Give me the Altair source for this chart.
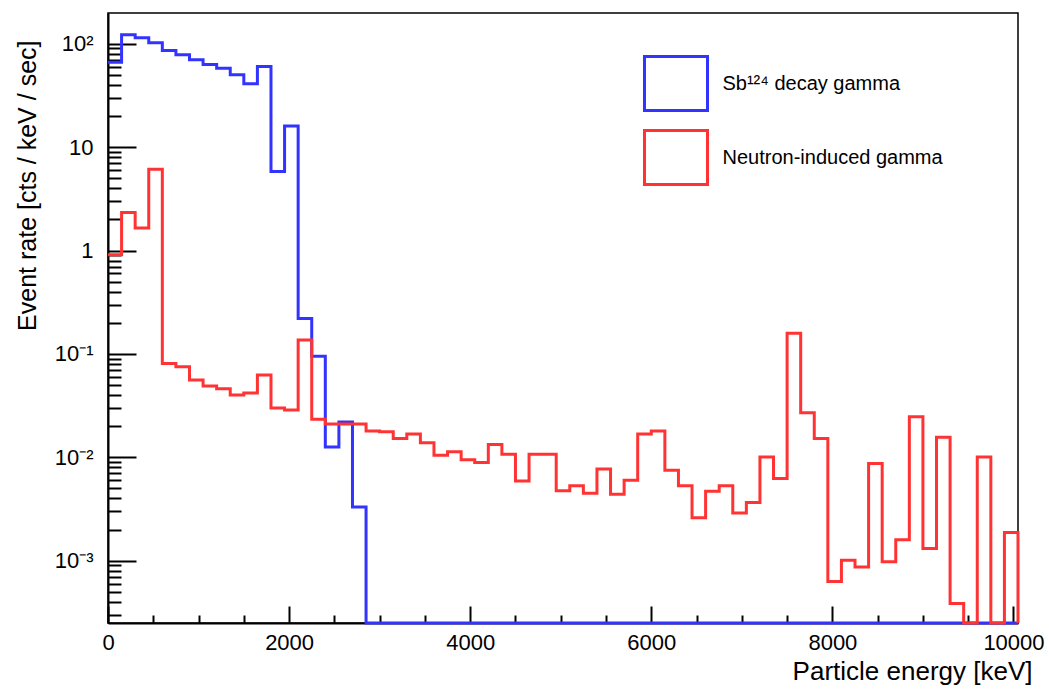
import altair as alt
import pandas as pd

# ---------------- data ----------------
bin_width_kev = 150
x_max_kev = 10050
y_min = 2.5e-4
y_max = 198

series_names = ["Sb\u00b9\u00b2\u2074 decay gamma", "Neutron-induced gamma"]
series_colors = ["#3333ff", "#ff3333"]

# Sb124 decay gamma, event rate per 150 keV bin (0 .. 10050 keV)
sb124_rate = [
    66, 122, 114, 102, 86, 78, 70, 63, 58, 50, 41, 60,
    5.8, 16, 0.22, 0.095, 0.0126, 0.022, 0.0033,
    0, 0, 0, 0, 0, 0, 0, 0, 0, 0, 0, 0,
    0, 0, 0, 0, 0, 0, 0, 0, 0, 0, 0, 0,
    0, 0, 0, 0, 0, 0, 0, 0, 0, 0, 0, 0,
    0, 0, 0, 0, 0, 0, 0, 0, 0, 0, 0, 0,
]

# Neutron-induced gamma, event rate per 150 keV bin
neutron_rate = [
    0.91, 2.33, 1.65, 6.1, 0.081, 0.075, 0.056, 0.049, 0.046, 0.040,
    0.042, 0.0625, 0.030, 0.0287, 0.136, 0.0233, 0.021, 0.021, 0.021, 0.018,
    0.0177, 0.0152, 0.0168, 0.0138, 0.0105, 0.0113, 0.0095, 0.0089, 0.0133, 0.0107,
    0.0059, 0.0107, 0.0107, 0.00475, 0.0053, 0.0045, 0.0077, 0.0044, 0.0060, 0.0168,
    0.018, 0.0075, 0.0053, 0.0026, 0.0047, 0.0053, 0.0029, 0.00365, 0.0101, 0.00625,
    0.158, 0.027, 0.0152, 0.00063, 0.00101, 0.00087, 0.0087, 0.00098, 0.0016, 0.0247,
    0.00131, 0.0156, 0.000385, 0, 0.0101, 0, 0.00188,
]

bin_left_edges = list(range(0, x_max_kev, bin_width_kev))

x_major = 2000
x_tick_values = list(range(0, 10001, 500))
y_tick_values = [m * 10.0 ** e for e in range(-4, 3) for m in range(1, 10)
                 if y_min <= m * 10.0 ** e <= y_max]

# ---------------- build step outlines ----------------
def outline(name, values):
    pts = [(e, max(v, y_min)) for e, v in zip(bin_left_edges, values)]
    pts.append((x_max_kev, y_min))
    return pd.DataFrame({"series": name, "energy": [p[0] for p in pts],
                         "rate": [p[1] for p in pts], "i": list(range(len(pts)))})

df_sb = outline(series_names[0], sb124_rate)
df_n = outline(series_names[1], neutron_rate)

FONT = "Liberation Sans"

decade_test = "abs(log(datum.value)/LN10 - round(log(datum.value)/LN10)) < 1e-6"
y_label_expr = (
    f"({decade_test}) ? ("
    "round(log(datum.value)/LN10) == 2 ? '10\u00b2' : "
    "round(log(datum.value)/LN10) == 1 ? '10' : "
    "round(log(datum.value)/LN10) == 0 ? '1' : "
    "round(log(datum.value)/LN10) == -1 ? '10\u207b\u00b9' : "
    "round(log(datum.value)/LN10) == -2 ? '10\u207b\u00b2' : "
    "round(log(datum.value)/LN10) == -3 ? '10\u207b\u00b3' : '') : ''"
)

x_axis = alt.Axis(
    values=x_tick_values,
    labelExpr=f"datum.value % {x_major} === 0 ? format(datum.value, 'd') : ''",
    tickSize={"condition": {"test": f"datum.value % {x_major} === 0", "value": -17}, "value": -8},
    tickWidth=2, tickColor="black",
    domainColor="black", domainWidth=2,
    labelFontSize=22, labelFont=FONT, labelColor="black", labelPadding=26,
    labelOverlap=False, labelFlush=False, grid=False,
    title="Particle energy [keV]", titleFontSize=26, titleFont=FONT,
    titleFontWeight="normal", titleColor="black",
    titleAlign="right", titleBaseline="alphabetic", titleX=924, titleY=56,
)

y_axis = alt.Axis(
    values=y_tick_values,
    labelExpr=y_label_expr,
    tickSize={"condition": {"test": decade_test, "value": -28}, "value": -13},
    tickWidth=2, tickColor="black",
    domainColor="black", domainWidth=2,
    labelFontSize=22, labelFont=FONT, labelColor="black", labelPadding=43,
    labelOverlap=False, labelFlush=False, grid=False,
    title="Event rate [cts / keV / sec]", titleFontSize=25, titleFont=FONT,
    titleFontWeight="normal", titleColor="black",
    titleAngle=-90, titleAlign="right", titleBaseline="middle", titleX=-81, titleY=27,
)

color_scale = alt.Scale(domain=series_names, range=series_colors)
legend = alt.Legend(
    title=None, orient="none", legendX=539.5, legendY=42,
    symbolType="M-1.167,-1L1.167,-1L1.167,1L-1.167,1Z", symbolSize=2916,
    symbolStrokeWidth=3, symbolFillColor="transparent",
    labelFontSize=20, labelFont=FONT, labelColor="black", labelOffset=18,
    rowPadding=7, padding=0, labelLimit=400,
)

def layer(df, show_legend):
    return alt.Chart(df).mark_line(interpolate="step-after", strokeWidth=3).encode(
        x=alt.X("energy:Q", scale=alt.Scale(domain=[0, x_max_kev], nice=False, zero=False), axis=x_axis),
        y=alt.Y("rate:Q", scale=alt.Scale(type="log", domain=[y_min, y_max], nice=False), axis=y_axis),
        color=alt.Color("series:N", scale=color_scale, legend=legend if show_legend else None),
        order=alt.Order("i:Q"),
    )

chart = alt.layer(layer(df_sb, True), layer(df_n, False)).properties(
    width=910, height=610,
    autosize=alt.AutoSizeParams(type="none"),
    padding={"left": 108, "top": 13, "right": 31, "bottom": 66},
    background="white",
).configure_view(stroke="black", strokeWidth=1.5)

chart.save("out.html", embed_options={"renderer": "svg", "actions": False})
